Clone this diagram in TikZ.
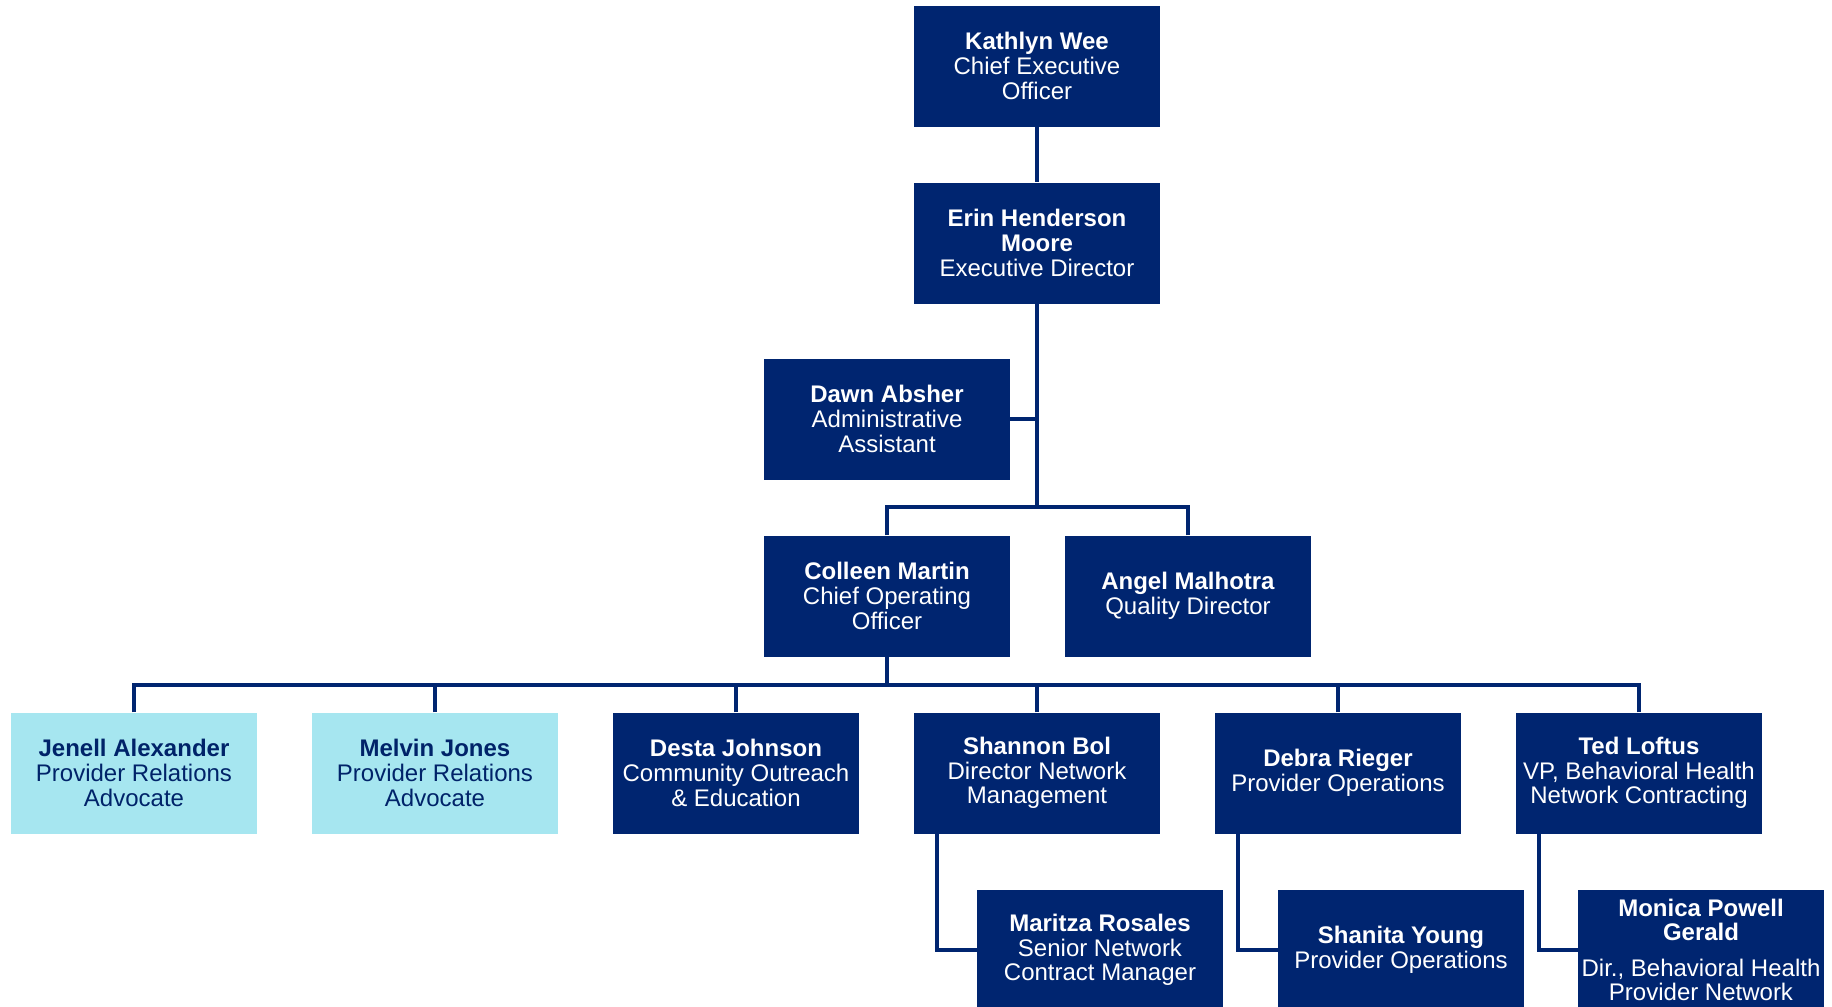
\documentclass[tikz,border=0pt]{standalone}
\usepackage{fontspec}
\setmainfont{Liberation Sans}
\definecolor{navy}{RGB}{0,37,112}
\definecolor{cyanbox}{RGB}{166,230,240}
\definecolor{navytext}{RGB}{0,35,105}
\begin{document}
\begin{tikzpicture}[x=1pt,y=-1pt,
  box/.style={fill=navy, text=white, minimum width=246pt, minimum height=121pt,
    align=center, inner sep=2pt, font=\fontsize{24}{24.6}\selectfont},
  lbox/.style={box, fill=cyanbox, text=navytext},
  link/.style={draw=navy, line width=3.1pt}]
\clip (0,0) rectangle (1832,1007);
\useasboundingbox (0,0) rectangle (1832,1007);
% level 1-2
\node[box] (kw) at (1037,66) {\textbf{Kathlyn Wee}\\Chief Executive\\Officer};
\node[box] (eh) at (1037,243) {\textbf{Erin Henderson}\\\textbf{Moore}\\Executive Director};
\node[box] (da) at (887,419) {\textbf{Dawn Absher}\\Administrative\\Assistant};
\node[box] (cm) at (887,596) {\textbf{Colleen Martin}\\Chief Operating\\Officer};
\node[box] (am) at (1188,596) {\textbf{Angel Malhotra}\\Quality Director};
% row 3
\node[lbox] (ja) at (134,773) {\textbf{Jenell Alexander}\\Provider Relations\\Advocate};
\node[lbox] (mj) at (435,773) {\textbf{Melvin Jones}\\Provider Relations\\Advocate};
\node[box] (dj) at (736,773) {\textbf{Desta Johnson}\\Community Outreach\\\& Education};
\node[box] (sb) at (1037,773) {\textbf{Shannon Bol}\\Director Network\\Management};
\node[box] (dr) at (1338,773) {\textbf{Debra Rieger}\\Provider Operations};
\node[box] (tl) at (1639,773) {\textbf{Ted Loftus}\\VP, Behavioral Health\\Network Contracting};
% row 4
\node[box] (mr) at (1100,950) {\textbf{Maritza Rosales}\\Senior Network\\Contract Manager};
\node[box] (sy) at (1401,950) {\textbf{Shanita Young}\\Provider Operations};
\node[box] (mp) at (1701,950) {\textbf{Monica Powell}\\\textbf{Gerald}\\[11pt]Dir., Behavioral Health\\Provider Network};
% connectors
\coordinate (b1) at (1037,507);
\coordinate (b2) at (887,685);
\draw[link] (kw.south) -- (eh.north);
\draw[link] (eh.south) -- (b1);
\draw[link] (da.east) -- (da.east -| eh.south);
\draw[link] (cm.north) |- (b1);
\draw[link] (am.north) |- (b1);
\draw[link] (cm.south) -- (b2);
\foreach \n in {ja,mj,dj,sb,dr,tl}{\draw[link] (\n.north) |- (b2);}
\draw[link] ([xshift=-100pt]sb.south) |- (mr.west);
\draw[link] ([xshift=-100pt]dr.south) |- (sy.west);
\draw[link] ([xshift=-100pt]tl.south) |- (mp.west);
\end{tikzpicture}
\end{document}
